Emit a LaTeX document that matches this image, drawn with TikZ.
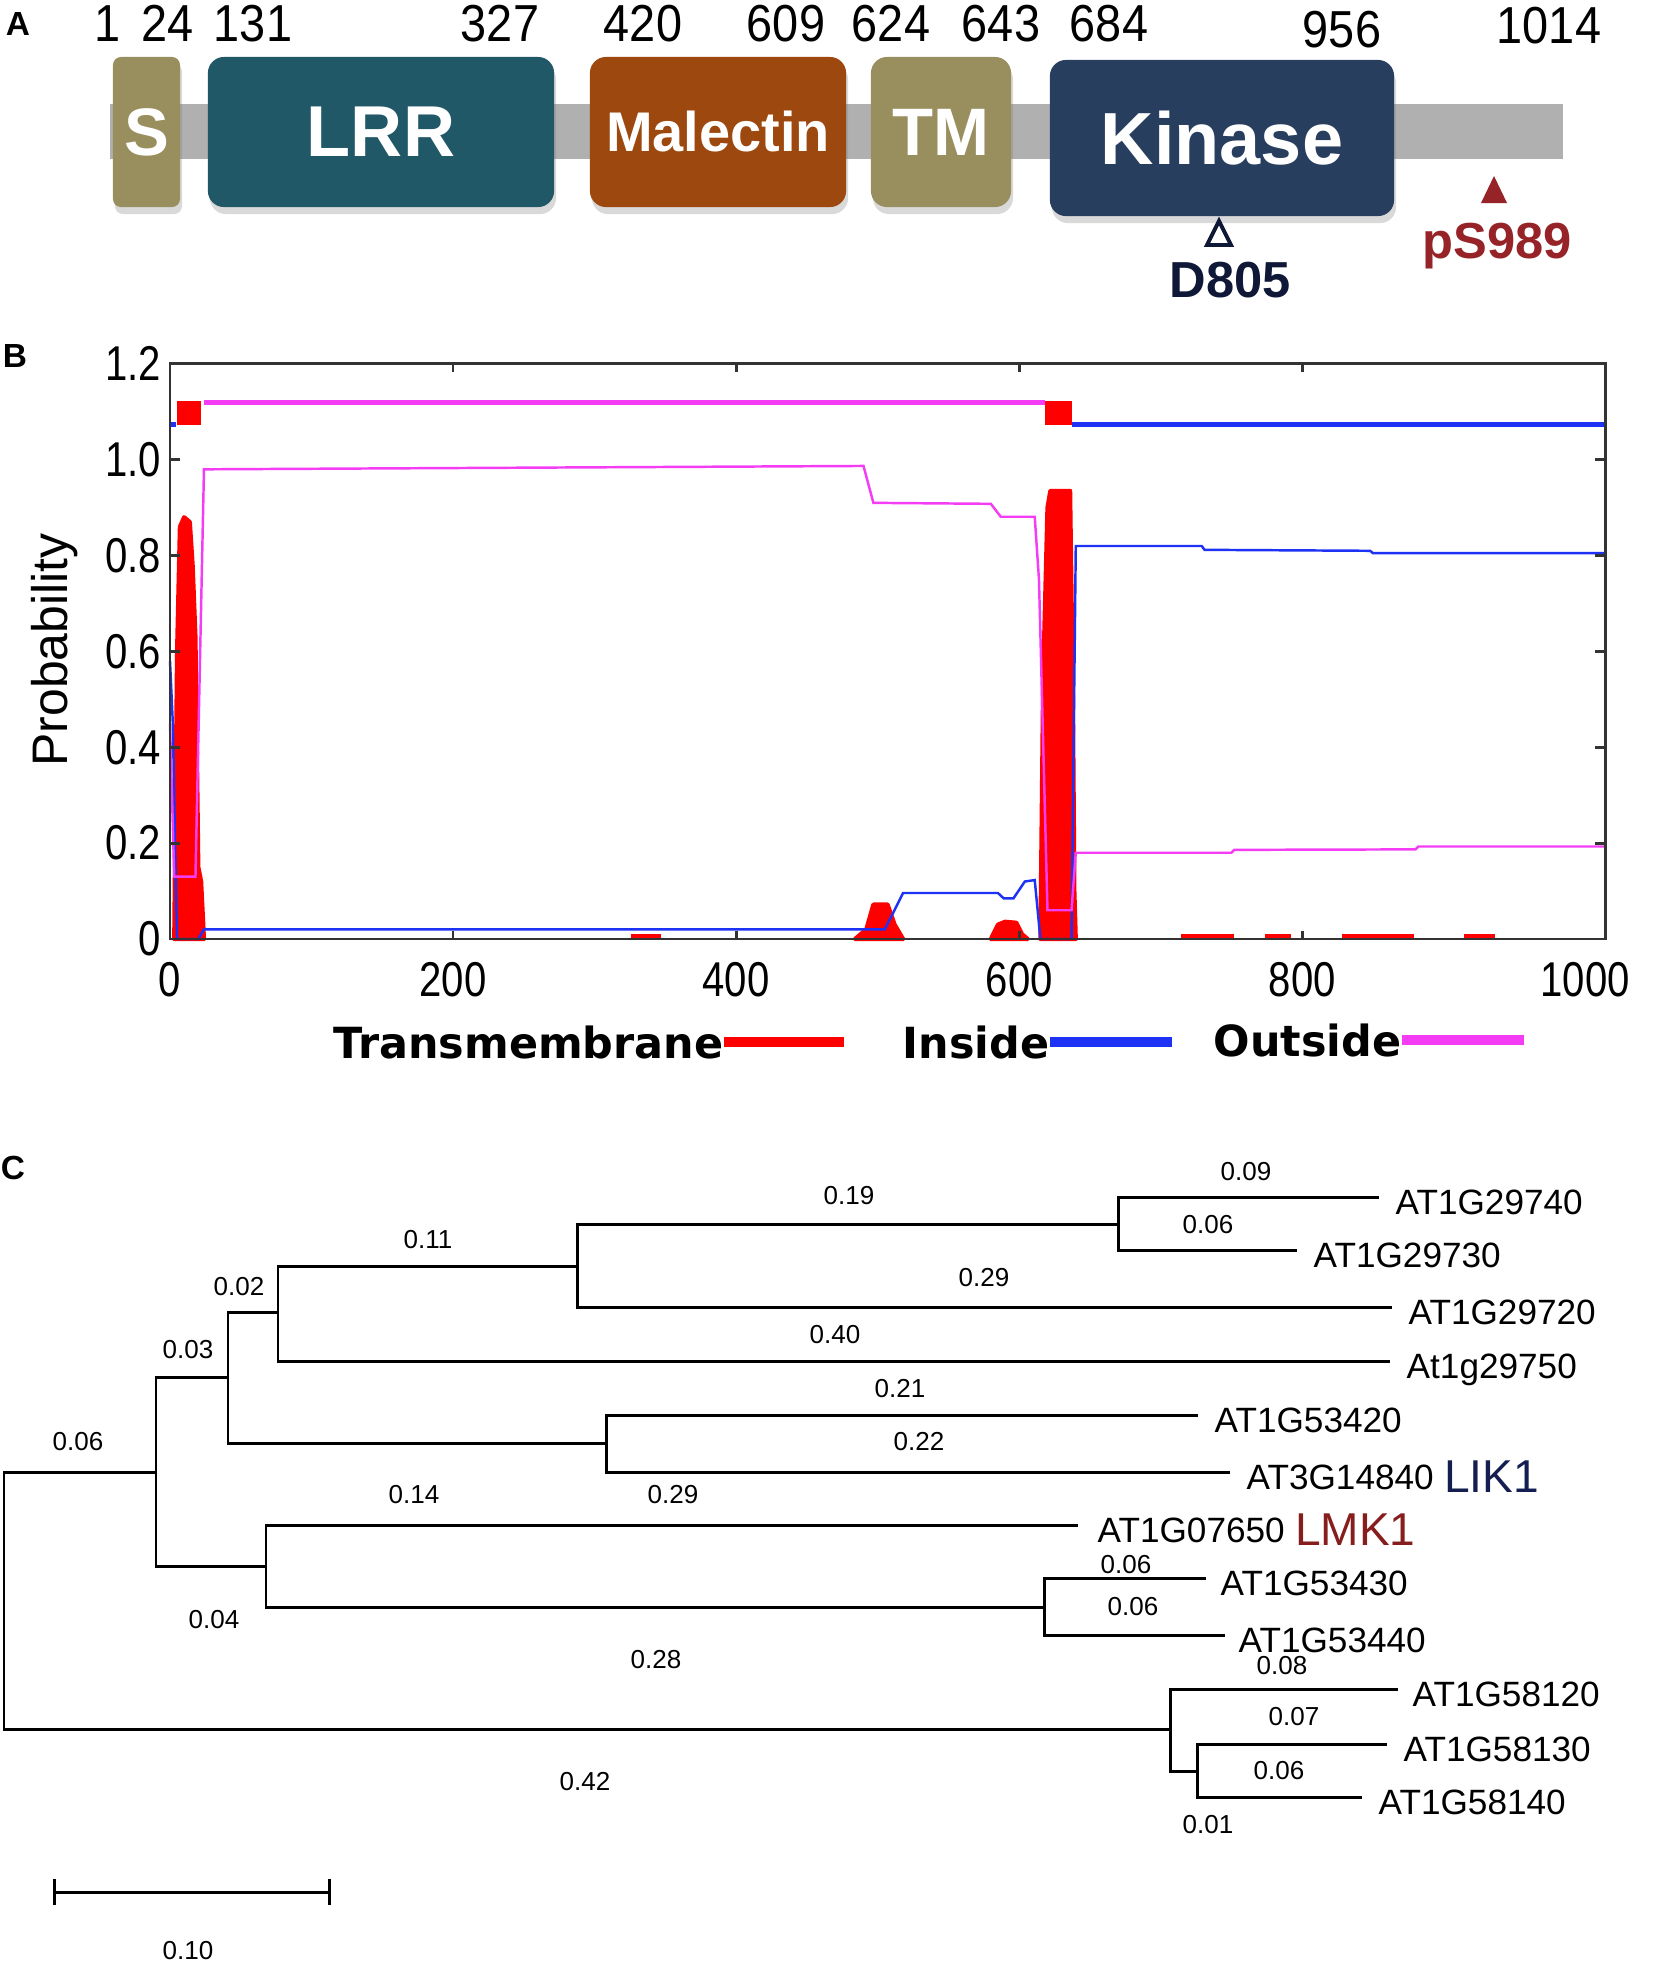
\documentclass[tikz,border=0pt]{standalone}
\usepackage{fontspec}
\setmainfont{Liberation Sans}
\newfontfamily\condfont[FakeStretch=0.82]{Liberation Sans}
\newfontfamily\posfont[FakeStretch=0.9]{Liberation Sans}
\newfontfamily\legendfont{DejaVu Sans}
\usetikzlibrary{positioning,shadows}

\definecolor{domolive}{RGB}{153,142,94}
\definecolor{domteal}{RGB}{33,88,104}
\definecolor{domrust}{RGB}{156,72,14}
\definecolor{domnavy}{RGB}{40,62,94}
\definecolor{bargray}{RGB}{176,176,176}
\definecolor{sitenavy}{RGB}{15,25,55}
\definecolor{sitered}{RGB}{150,35,40}
\definecolor{liknavy}{RGB}{20,30,80}
\definecolor{lmkred}{RGB}{135,30,30}
\definecolor{tmred}{RGB}{255,0,0}
\definecolor{inblue}{RGB}{30,50,245}
\definecolor{outmag}{RGB}{245,60,245}

\begin{document}
\begin{tikzpicture}[x=0.01cm, y=-0.01cm,
  every node/.style={inner sep=0pt},
  panel/.style={font=\bfseries\fontsize{9.5pt}{10pt}\selectfont},
  resnum/.style={anchor=base, font=\posfont\fontsize{14.8pt}{16pt}\selectfont},
  dombox/.style={rounded corners=0.16cm, text=white, minimum height=1.5cm,
    drop shadow={opacity=0.3, shadow xshift=0.02cm, shadow yshift=-0.07cm}},
  site/.style={anchor=base, font=\bfseries\fontsize{14.4pt}{16pt}\selectfont},
  plotframe/.style={draw=black!80, line width=0.8pt},
  ticklab/.style={font=\condfont\fontsize{13.9pt}{15pt}\selectfont},
  tmcurve/.style={draw=tmred, fill=tmred, line width=1.2pt, line join=round},
  tmflat/.style={draw=tmred, line width=1.6pt},
  incurve/.style={draw=inblue, line width=0.7pt},
  outcurve/.style={draw=outmag, line width=0.7pt},
  legtext/.style={anchor=east, font=\legendfont\bfseries\fontsize{12.2pt}{14pt}\selectfont},
  legline/.style={line width=2.6pt},
  branch/.style={line width=0.85pt, line join=miter},
  leaf/.style={text depth=0pt, yshift=-0.05cm, font=\fontsize{10pt}{11pt}\selectfont},
  blen/.style={font=\fontsize{7.4pt}{8pt}\selectfont},
  gene/.style={font=\fontsize{13.1pt}{14pt}\selectfont}]
\useasboundingbox (0,0) rectangle (1655,1969);

% Panel A: domains
\node[panel] (pa) at (18,24) {A};
\fill[bargray] (110,104) rectangle (1563,159);
\node[dombox, fill=domolive, minimum width=0.67cm, rounded corners=0.08cm,
  font=\bfseries\fontsize{19.1pt}{20pt}\selectfont] (sdom) at (146.5,132) {S};
\node[dombox, fill=domteal, minimum width=3.46cm,
  font=\bfseries\fontsize{20.5pt}{22pt}\selectfont] (lrr) at (381,132) {LRR};
\node[dombox, fill=domrust, minimum width=2.56cm,
  font=\bfseries\fontsize{15.9pt}{17pt}\selectfont] (malectin) at (718,132) {Malectin};
\node[dombox, fill=domolive, minimum width=1.40cm,
  font=\bfseries\fontsize{19.1pt}{20pt}\selectfont] (tm) at (941,132) {TM};
\node[dombox, fill=domnavy, minimum width=3.44cm, minimum height=1.56cm,
  font=\bfseries\fontsize{21pt}{22pt}\selectfont] (kinase) at (1222,138) {Kinase};

\node[resnum] (p1) at (108,41) {1};
\node[resnum] (p24) at (168,41) {24};
\node[resnum] (p131) at (253,41) {131};
\node[resnum] (p327) at (500,41) {327};
\node[resnum] (p420) at (643,41) {420};
\node[resnum] (p609) at (786,41) {609};
\node[resnum] (p624) at (891,41) {624};
\node[resnum] (p643) at (1001,41) {643};
\node[resnum] (p684) at (1109,41) {684};
\node[resnum] (p956) at (1342,47) {956};
\node[resnum] (p1014) at (1549,43) {1014};

\draw[sitenavy, line width=1.1pt, line join=miter] (1207,245) -- (1219,221) -- (1231,245) -- cycle;
\node[site, text=sitenavy] (d805) at (1230,297) {D805};
\fill[sitered] (1481,203) -- (1494,176) -- (1507,203) -- cycle;
\node[site, text=sitered] (ps989) at (1497,258) {pS989};

% Panel B: topology plot
\node[panel] (pb) at (15,356) {B};
\node[rotate=90, font=\fontsize{14.2pt}{15pt}\selectfont] (ylab) at (55,650) {Probability};
\begin{scope}[shift={(170,939)}, x=0.01414cm, y=4.79cm]
  % transmembrane
  \filldraw[tmcurve] (3,0) -- (5,0.6) -- (7,0.86) -- (10,0.88) -- (14,0.87) -- (16,0.78)
    -- (18,0.63) -- (20,0.15) -- (22,0.12) -- (24,0) -- cycle;
  \filldraw[tmcurve] (615,0) -- (617,0.55) -- (620,0.9) -- (622,0.935) -- (636,0.935)
    -- (638,0.5) -- (639,0.1) -- (640,0) -- cycle;
  \filldraw[tmcurve] (484,0) -- (492,0.02) -- (497,0.072) -- (507,0.072) -- (512,0.03) -- (518,0) -- cycle;
  \filldraw[tmcurve] (580,0) -- (585,0.03) -- (590,0.036) -- (598,0.034) -- (602,0.01) -- (606,0) -- cycle;
  \foreach \a/\b in {326/347, 714/752, 774/792, 828/879, 914/936}
    \draw[tmflat] (\a,0.004) -- (\b,0.004);
  \fill[tmred] (5,1.073) rectangle (22,1.122);
  \fill[tmred] (618,1.073) rectangle (637,1.122);
  % inside
  \draw[incurve] (0,0.58) -- (2,0.45) -- (4,0.13) -- (5,0) -- (20,0) -- (24,0.02) -- (505,0.02)
    -- (518,0.096) -- (585,0.096) -- (589,0.085) -- (596,0.085) -- (604,0.12) -- (611,0.123)
    -- (615,0) -- (637,0) -- (640,0.82) -- (729,0.82) -- (731,0.812) -- (848,0.81)
    -- (850,0.805) -- (1014,0.805);
  \draw[inblue, line width=1.5pt] (637,1.073) -- (1014,1.073);
  \draw[inblue, line width=1.5pt] (0,1.073) -- (4,1.073);
  % outside
  \draw[outcurve] (0,0.45) -- (3,0.13) -- (18,0.13) -- (24,0.98) -- (490,0.987) -- (497,0.91)
    -- (580,0.908) -- (587,0.881) -- (611,0.881) -- (614,0.75) -- (620,0.06) -- (637,0.06)
    -- (640,0.18) -- (750,0.18) -- (752,0.186) -- (880,0.187) -- (882,0.193) -- (1014,0.193);
  \draw[outmag, line width=1.5pt] (24,1.119) -- (618,1.119);
  % axes
  \draw[plotframe] (0,0) rectangle (1014,1.2);
  \foreach \t in {200,400,...,800} {
    \draw[plotframe] (\t,0) -- (\t,0.016);
    \draw[plotframe] (\t,1.2) -- (\t,1.184);
  }
  \foreach \v in {0.2,0.4,0.6,0.8,1.0} {
    \draw[plotframe] (0,\v) -- (7,\v);
    \draw[plotframe] (1014,\v) -- (1007,\v);
  }
  \foreach \v/\s [count=\i] in {0/0, 0.2/0.2, 0.4/0.4, 0.6/0.6, 0.8/0.8, 1.0/1.0, 1.2/1.2}
    \node[ticklab, anchor=east] (yl\i) at (-6,\v) {\s};
  \foreach \t [count=\i] in {0,200,400,600,800,1000}
    \node[ticklab] (xl\i) at (\t,-0.085) {\t};
\end{scope}

\node[legtext] (legtm) at (724,1042) {Transmembrane};
\draw[tmred, legline] (legtm.east) -- ++(120,0);
\node[legtext] (legin) at (1050,1042) {Inside};
\draw[inblue, legline] (legin.east) -- ++(122,0);
\node[legtext] (legout) at (1402,1040) {Outside};
\draw[outmag, legline] (legout.east) -- ++(122,0);

% Panel C: tree
\node[panel] (pc) at (13,1168) {C};
\coordinate (root) at (4,1600);
\coordinate (n1) at (156,1472);
\coordinate (n2) at (228,1377);
\coordinate (n3) at (278,1312);
\coordinate (n4) at (577,1266);
\coordinate (n5) at (1118,1224);
\coordinate (n6) at (606,1443);
\coordinate (n7) at (266,1566);
\coordinate (n8) at (1044,1607);
\coordinate (n9) at (1170,1729);
\coordinate (n10) at (1197,1771);
\coordinate (t29740) at (1379,1197);
\coordinate (t29730) at (1297,1250);
\coordinate (t29720) at (1392,1307);
\coordinate (t29750) at (1390,1361);
\coordinate (t53420) at (1198,1415);
\coordinate (t14840) at (1230,1472);
\coordinate (t07650) at (1078,1525);
\coordinate (t53430) at (1206,1578);
\coordinate (t53440) at (1225,1635);
\coordinate (t58120) at (1398,1689);
\coordinate (t58130) at (1387,1744);
\coordinate (t58140) at (1362,1797);

\foreach \p/\c in {root/n1, root/n9, n1/n2, n1/n7, n2/n3, n2/n6, n3/n4, n3/t29750,
  n4/n5, n4/t29720, n5/t29740, n5/t29730, n6/t53420, n6/t14840, n7/t07650, n7/n8,
  n8/t53430, n8/t53440, n9/t58120, n9/n10, n10/t58130, n10/t58140}
  \draw[branch] (\p) |- (\c);

\node[leaf, right=0.16cm of t29740] (l29740) {AT1G29740};
\node[leaf, right=0.16cm of t29730] (l29730) {AT1G29730};
\node[leaf, right=0.16cm of t29720] (l29720) {AT1G29720};
\node[leaf, right=0.16cm of t29750] (l29750) {At1g29750};
\node[leaf, right=0.16cm of t53420] (l53420) {AT1G53420};
\node[leaf, right=0.16cm of t14840] (l14840) {AT3G14840};
\node[gene, text=liknavy, right=0.09cm of l14840] (lik1) {LIK1};
\node[leaf, right=0.19cm of t07650] (l07650) {AT1G07650};
\node[gene, text=lmkred, right=0.09cm of l07650] (lmk1) {LMK1};
\node[leaf, right=0.14cm of t53430] (l53430) {AT1G53430};
\node[leaf, right=0.13cm of t53440] (l53440) {AT1G53440};
\node[leaf, right=0.14cm of t58120] (l58120) {AT1G58120};
\node[leaf, right=0.16cm of t58130] (l58130) {AT1G58130};
\node[leaf, right=0.16cm of t58140] (l58140) {AT1G58140};

% branch lengths
\node[blen] (b1) at (78,1442) {0.06};
\node[blen] (b2) at (188,1350) {0.03};
\node[blen] (b3) at (239,1287) {0.02};
\node[blen] (b4) at (428,1240) {0.11};
\node[blen] (b5) at (849,1196) {0.19};
\node[blen] (b6) at (1246,1172) {0.09};
\node[blen] (b7) at (1208,1225) {0.06};
\node[blen] (b8) at (984,1278) {0.29};
\node[blen] (b9) at (835,1335) {0.40};
\node[blen] (b10) at (900,1389) {0.21};
\node[blen] (b11) at (919,1442) {0.22};
\node[blen] (b12) at (414,1495) {0.14};
\node[blen] (b13) at (673,1495) {0.29};
\node[blen] (b14) at (1126,1565) {0.06};
\node[blen] (b15) at (1133,1607) {0.06};
\node[blen] (b16) at (214,1620) {0.04};
\node[blen] (b17) at (1282,1666) {0.08};
\node[blen] (b18) at (656,1660) {0.28};
\node[blen] (b19) at (1294,1717) {0.07};
\node[blen] (b20) at (1279,1771) {0.06};
\node[blen] (b21) at (585,1782) {0.42};
\node[blen] (b22) at (1208,1825) {0.01};

% scale bar
\coordinate (sbl) at (53,1892);
\coordinate (sbr) at (331,1892);
\draw[branch, |-|] (sbl) -- (sbr);
\node[blen] (sbtxt) at (188,1951) {0.10};
\end{tikzpicture}
\end{document}
